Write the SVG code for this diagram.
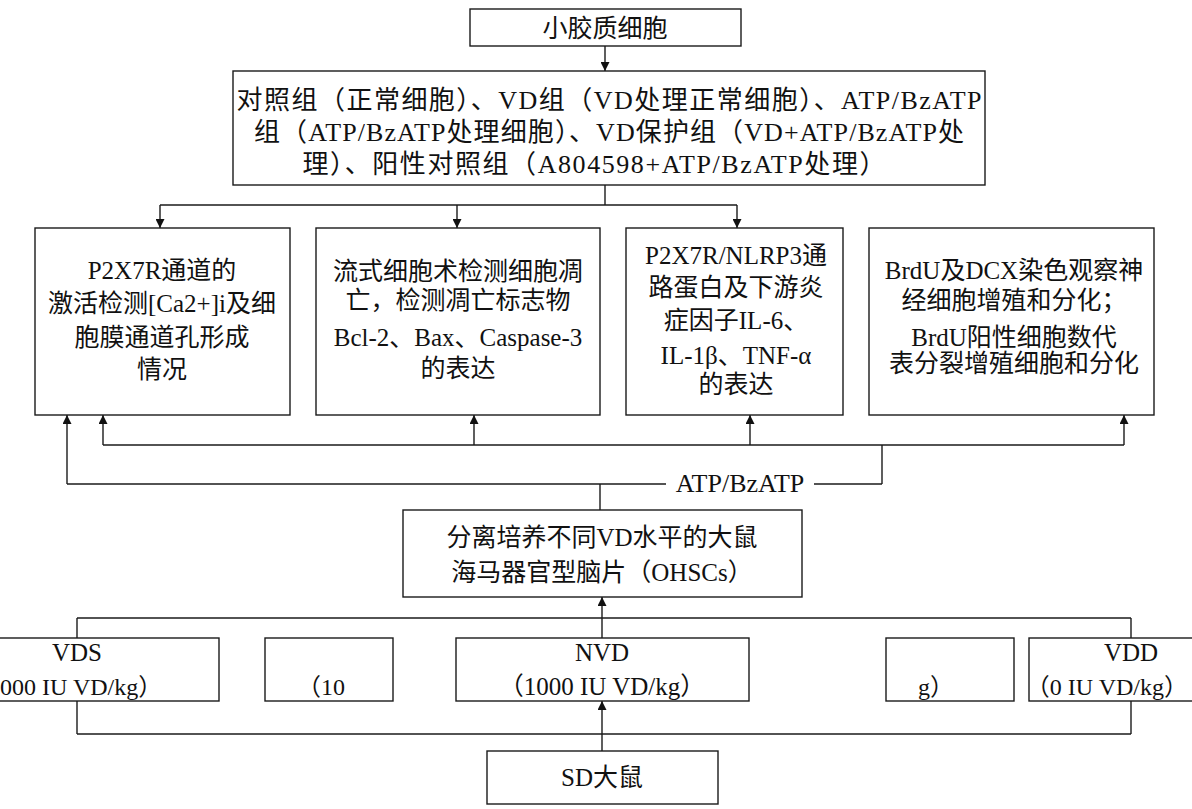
<svg xmlns="http://www.w3.org/2000/svg" width="1192" height="809" viewBox="0 0 1192 809">
<style>
.box{fill:#fff;stroke:#1a1a1a;stroke-width:1.4}
.t{font-family:"Liberation Serif","Noto Sans CJK SC",serif;font-size:25px;fill:#111;text-anchor:middle}
.tb{font-family:"Liberation Serif","Noto Sans CJK SC",serif;font-size:26px;fill:#111;text-anchor:middle}
.ts{font-family:"Liberation Serif","Noto Sans CJK SC",serif;font-size:24px;fill:#111}
.c{fill:none;stroke:#1a1a1a;stroke-width:1.4}
.lbl{font-family:"Liberation Serif","Noto Sans CJK SC",serif;font-size:26px;fill:#111;text-anchor:middle}
</style>
<defs>
<marker id="ah" viewBox="0 0 10 10" refX="10" refY="5" markerWidth="9" markerHeight="9" markerUnits="userSpaceOnUse" orient="auto">
<path d="M0,0 L10,5 L0,10 z" fill="#111"/>
</marker>
</defs>
<rect width="1192" height="809" fill="#fff"/>

<g id="connectors">
<line class="c" x1="605" y1="46" x2="605" y2="71" marker-end="url(#ah)"/>
<polyline class="c" points="605,185 605,205"/>
<line class="c" x1="160" y1="205" x2="737" y2="205"/>
<line class="c" x1="160" y1="205" x2="160" y2="228" marker-end="url(#ah)"/>
<line class="c" x1="457" y1="205" x2="457" y2="228" marker-end="url(#ah)"/>
<line class="c" x1="737" y1="205" x2="737" y2="228" marker-end="url(#ah)"/>

<line class="c" x1="600" y1="510" x2="600" y2="484"/>
<line class="c" x1="67" y1="484" x2="882" y2="484"/>
<line class="c" x1="882" y1="484" x2="882" y2="445"/>
<line class="c" x1="103" y1="445" x2="1124" y2="445"/>
<line class="c" x1="67" y1="484" x2="67" y2="415" marker-end="url(#ah)"/>
<line class="c" x1="103" y1="445" x2="103" y2="415" marker-end="url(#ah)"/>
<line class="c" x1="474" y1="445" x2="474" y2="415" marker-end="url(#ah)"/>
<line class="c" x1="750" y1="445" x2="750" y2="415" marker-end="url(#ah)"/>
<line class="c" x1="1124" y1="445" x2="1124" y2="415" marker-end="url(#ah)"/>
<rect x="666" y="470" width="148" height="26" fill="#fff"/>
<text class="lbl" x="740" y="492">ATP/BzATP</text>

<line class="c" x1="602" y1="638" x2="602" y2="597" marker-end="url(#ah)"/>
<line class="c" x1="77" y1="618" x2="1131" y2="618"/>
<line class="c" x1="77" y1="618" x2="77" y2="638"/>
<line class="c" x1="1131" y1="618" x2="1131" y2="638"/>
<line class="c" x1="77" y1="734" x2="1131" y2="734"/>
<line class="c" x1="77" y1="701" x2="77" y2="734"/>
<line class="c" x1="1131" y1="701" x2="1131" y2="734"/>
<line class="c" x1="602" y1="751" x2="602" y2="701" marker-end="url(#ah)"/>
</g>

<g id="microglia">
<rect class="box" x="470" y="9" width="271" height="37"/>
<text class="t" x="605" y="37">小胶质细胞</text>
</g>

<g id="groups">
<rect class="box" x="233" y="71" width="752" height="114"/>
<text class="tb" x="609" y="109" textLength="745" lengthAdjust="spacing">对照组（正常细胞）、VD组（VD处理正常细胞）、ATP/BzATP</text>
<text class="tb" x="609" y="141" textLength="710" lengthAdjust="spacing">组（ATP/BzATP处理细胞）、VD保护组（VD+ATP/BzATP处</text>
<text class="tb" x="594" y="173" textLength="583" lengthAdjust="spacing">理）、阳性对照组（A804598+ATP/BzATP处理）</text>
</g>

<g id="box-p2x7r">
<rect class="box" x="35" y="228" width="255" height="187"/>
<text class="t" x="162" y="279">P2X7R通道的</text>
<text class="t" x="162" y="312">激活检测[Ca2+]i及细</text>
<text class="t" x="162" y="346">胞膜通道孔形成</text>
<text class="t" x="162" y="378">情况</text>
</g>

<g id="box-apoptosis">
<rect class="box" x="316" y="228" width="284" height="187"/>
<text class="t" x="458" y="280">流式细胞术检测细胞凋</text>
<text class="t" x="458" y="309">亡，检测凋亡标志物</text>
<text class="t" x="458" y="346">Bcl-2、Bax、Caspase-3</text>
<text class="t" x="458" y="377">的表达</text>
</g>

<g id="box-nlrp3">
<rect class="box" x="626" y="228" width="217" height="187"/>
<text class="t" x="736" y="264">P2X7R/NLRP3通</text>
<text class="t" x="736" y="296">路蛋白及下游炎</text>
<text class="t" x="736" y="329">症因子IL-6、</text>
<text class="t" x="736" y="364">IL-1β、TNF-α</text>
<text class="t" x="736" y="393">的表达</text>
</g>

<g id="box-brdu">
<rect class="box" x="869" y="228" width="285" height="187"/>
<text class="t" x="1014" y="279">BrdU及DCX染色观察神</text>
<text class="t" x="1014" y="309">经细胞增殖和分化；</text>
<text class="t" x="1014" y="346">BrdU阳性细胞数代</text>
<text class="t" x="1014" y="372">表分裂增殖细胞和分化</text>
</g>

<g id="ohscs">
<rect class="box" x="403" y="510" width="399" height="87"/>
<text class="t" x="602" y="546">分离培养不同VD水平的大鼠</text>
<text class="t" x="602" y="581">海马器官型脑片（OHSCs）</text>
</g>

<g id="vds">
<rect class="box" x="-65" y="638" width="284" height="63"/>
<text class="t" x="77" y="661">VDS</text>
<text class="ts" x="0" y="695">000 IU VD/kg）</text>
</g>

<g id="box-10">
<rect class="box" x="265" y="638" width="128" height="63"/>
<text class="ts" x="297" y="695">（10</text>
</g>

<g id="nvd">
<rect class="box" x="456" y="638" width="293" height="63"/>
<text class="t" x="602" y="661">NVD</text>
<text class="t" x="602" y="695">（1000 IU VD/kg）</text>
</g>

<g id="box-g">
<rect class="box" x="886" y="638" width="128" height="63"/>
<text class="ts" x="918" y="695">g）</text>
</g>

<g id="vdd">
<rect class="box" x="1029" y="638" width="210" height="63"/>
<text class="t" x="1131" y="661">VDD</text>
<text class="ts" x="1188" y="695" text-anchor="end" font-size="23">（0 IU VD/kg）</text>
</g>

<g id="sd">
<rect class="box" x="487" y="751" width="231" height="53"/>
<text class="t" x="602" y="786">SD大鼠</text>
</g>
</svg>
